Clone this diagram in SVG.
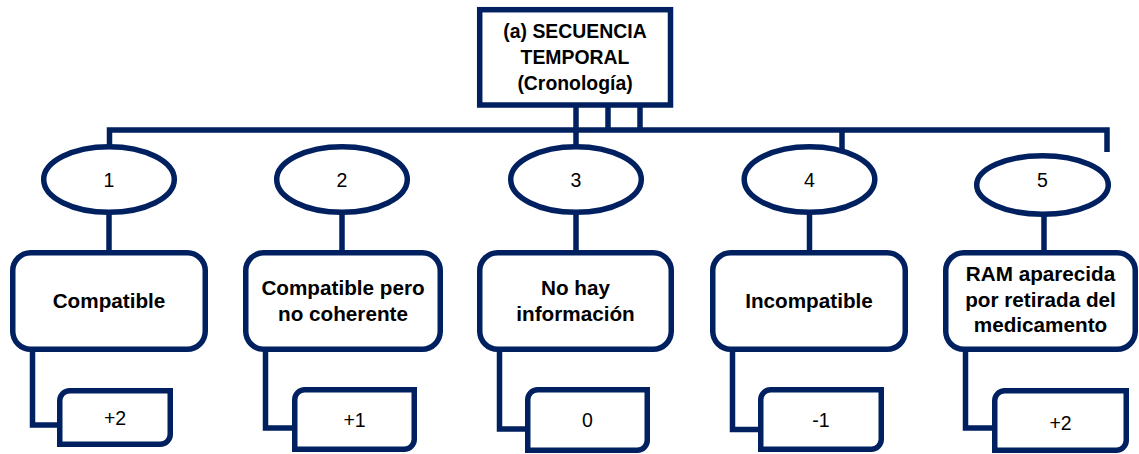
<svg xmlns="http://www.w3.org/2000/svg" width="1139" height="454" viewBox="0 0 1139 454">
<style>
.ln{fill:none;stroke:#002060;stroke-width:5.5;stroke-linejoin:miter;stroke-linecap:butt}
.nd{fill:#fff;stroke:#002060;stroke-width:5.5}
.tb{font-family:"Liberation Sans",Arial,sans-serif;font-weight:bold;font-size:20.7px;fill:#000;text-anchor:middle}
.tt{font-family:"Liberation Sans",Arial,sans-serif;font-weight:bold;font-size:19.4px;fill:#000;text-anchor:middle}
.tn{font-family:"Liberation Sans",Arial,sans-serif;font-size:19.5px;fill:#000;text-anchor:middle}
</style>
<rect width="1139" height="454" fill="#fff"/>
<g id="connectors" class="ln">
<path d="M109.5,146 V130 H1107 V152"/>
<path d="M576,105 V146"/>
<path d="M608,105 V130"/>
<path d="M640,105 V130"/>
<path d="M842,130 V152"/>
<path d="M109,212 V253"/>
<path d="M342,212 V253"/>
<path d="M576,212 V253"/>
<path d="M809.5,212 V253"/>
<path d="M1044,214 V253"/>
<path d="M32.5,348 V425 H61"/>
<path d="M265.5,348 V428 H296"/>
<path d="M499.5,348 V429 H529"/>
<path d="M732.5,348 V429.5 H762"/>
<path d="M965.5,348 V428 H996"/>
</g>
<g id="title">
<rect class="nd" x="479.7" y="9.7" width="190.8" height="95.3"/>
<text class="tt" x="575" y="38">(a) SECUENCIA</text>
<text class="tt" x="575" y="64">TEMPORAL</text>
<text class="tt" x="575" y="90">(Cronología)</text>
</g>
<g id="e1"><ellipse class="nd" cx="109" cy="179.5" rx="65.3" ry="32.8"/><text class="tn" x="109" y="187">1</text></g>
<g id="e2"><ellipse class="nd" cx="342" cy="179.5" rx="65.3" ry="32.8"/><text class="tn" x="342" y="187">2</text></g>
<g id="e3"><ellipse class="nd" cx="576" cy="179.5" rx="65.3" ry="32.8"/><text class="tn" x="576" y="187">3</text></g>
<g id="e4"><ellipse class="nd" cx="809.5" cy="179.5" rx="65.3" ry="32.8"/><text class="tn" x="809.5" y="187">4</text></g>
<g id="e5"><ellipse class="nd" cx="1042.5" cy="185" rx="65.8" ry="29.3"/><text class="tn" x="1042.5" y="187">5</text></g>
<g id="b1"><rect class="nd" x="12.75" y="252.75" width="192.5" height="96.5" rx="18"/><text class="tb" x="109" y="308">Compatible</text></g>
<g id="b2"><rect class="nd" x="245.75" y="252.75" width="194.5" height="96.5" rx="18"/><text class="tb" x="343" y="295">Compatible pero</text><text class="tb" x="343" y="321">no coherente</text></g>
<g id="b3"><rect class="nd" x="479.75" y="252.75" width="191.5" height="96.5" rx="18"/><text class="tb" x="575.5" y="295">No hay</text><text class="tb" x="575.5" y="321">información</text></g>
<g id="b4"><rect class="nd" x="712.75" y="252.75" width="192.5" height="96.5" rx="18"/><text class="tb" x="809" y="308">Incompatible</text></g>
<g id="b5"><rect class="nd" x="945.75" y="252.75" width="189.5" height="96.5" rx="18"/><text class="tb" x="1040.5" y="281">RAM aparecida</text><text class="tb" x="1040.5" y="306.5">por retirada del</text><text class="tb" x="1040.5" y="332">medicamento</text></g>
<g id="s1"><path class="nd" d="M59.75,444.25 V400.75 A10,10 0 0 1 69.75,390.75 H170.25 V434.25 A10,10 0 0 1 160.25,444.25 Z"/><text class="tn" x="115" y="425">+2</text></g>
<g id="s2"><path class="nd" d="M294.75,449.25 V399.75 A10,10 0 0 1 304.75,389.75 H414.25 V439.25 A10,10 0 0 1 404.25,449.25 Z"/><text class="tn" x="354.5" y="426.5">+1</text></g>
<g id="s3"><path class="nd" d="M527.75,450.25 V399.75 A10,10 0 0 1 537.75,389.75 H647.25 V440.25 A10,10 0 0 1 637.25,450.25 Z"/><text class="tn" x="587.5" y="426.5">0</text></g>
<g id="s4"><path class="nd" d="M760.75,449.25 V399.75 A10,10 0 0 1 770.75,389.75 H881.25 V439.25 A10,10 0 0 1 871.25,449.25 Z"/><text class="tn" x="821" y="426.5">-1</text></g>
<g id="s5"><path class="nd" d="M994.75,450.25 V400.75 A10,10 0 0 1 1004.75,390.75 H1126.25 V440.25 A10,10 0 0 1 1116.25,450.25 Z"/><text class="tn" x="1060.5" y="430">+2</text></g>
</svg>
